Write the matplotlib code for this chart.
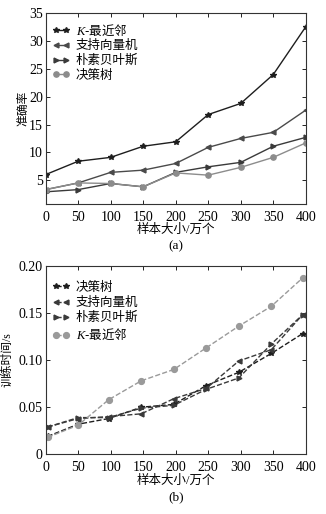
import matplotlib
matplotlib.use('Agg')
from matplotlib import pyplot as plt

plt.rcParams['font.family'] = ['Liberation Serif', 'Noto Sans CJK SC']
plt.rcParams['mathtext.fontset'] = 'custom'
plt.rcParams['mathtext.it'] = 'Liberation Serif:italic'
plt.rcParams['mathtext.rm'] = 'Liberation Serif'
plt.rcParams['axes.unicode_minus'] = False

# (a) accuracy vs sample size
x_a = [0, 50, 100, 150, 200, 250, 300, 350, 400]
knn_a = [6.0, 8.4, 9.1, 11.1, 11.9, 16.8, 18.8, 24.0, 32.6]
svm_a = [3.3, 4.5, 6.4, 6.8, 8.0, 10.9, 12.5, 13.6, 17.6]
nb_a = [2.9, 3.3, 4.4, 3.8, 6.4, 7.4, 8.2, 11.1, 12.7]
dt_a = [3.3, 4.5, 4.4, 3.8, 6.3, 5.9, 7.3, 9.1, 11.7]

# (b) training time vs sample size
x_b = [3, 50, 97, 147, 197, 247, 297, 347, 395]
dt_b = [0.019, 0.032, 0.038, 0.050, 0.053, 0.073, 0.087, 0.107, 0.128]
svm_b = [0.029, 0.038, 0.040, 0.043, 0.059, 0.070, 0.099, 0.111, 0.148]
nb_b = [0.029, 0.039, 0.039, 0.049, 0.052, 0.069, 0.081, 0.117, 0.148]
knn_b = [0.018, 0.031, 0.058, 0.078, 0.090, 0.113, 0.136, 0.157, 0.187]

xticks = [0, 50, 100, 150, 200, 250, 300, 350, 400]
knn_name = r'$K$-最近邻'

fig = plt.figure(figsize=(3.26, 5.14), dpi=100)
ax1 = fig.add_axes([0.140, 0.603, 0.798, 0.371])
ax2 = fig.add_axes([0.140, 0.116, 0.798, 0.367])

ax1.plot(x_a, knn_a, color='#1e1e1e', lw=1.0, marker='*', ms=4, label=knn_name)
ax1.plot(x_a, svm_a, color='#4a4a4a', lw=1.0, marker='<', ms=3.5, label='支持向量机')
ax1.plot(x_a, nb_a, color='#3a3a3a', lw=1.0, marker='>', ms=3.5, label='朴素贝叶斯')
ax1.plot(x_a, dt_a, color='#8c8c8c', lw=1.0, marker='o', ms=3.8, label='决策树')
ax1.set_xlim(0, 400)
ax1.set_ylim(0.7, 35)
ax1.set_xticks(xticks)
ax1.set_yticks([5, 10, 15, 20, 25, 30, 35])
ax1.set_ylabel('准确率', fontsize=8.5, labelpad=-0.5)
ax1.set_xlabel('样本大小/万个', fontsize=9, labelpad=0)
ax1.text(0.5, -0.22, '(a)', transform=ax1.transAxes, ha='center', va='center', fontsize=9.5)

ax2.plot(x_b, dt_b, color='#1e1e1e', lw=1.0, ls='--', marker='*', ms=4, label='决策树')
ax2.plot(x_b, svm_b, color='#3a3a3a', lw=1.0, ls='--', marker='<', ms=3.5, label='支持向量机')
ax2.plot(x_b, nb_b, color='#3a3a3a', lw=1.0, ls='--', marker='>', ms=3.5, label='朴素贝叶斯')
ax2.plot(x_b, knn_b, color='#9a9a9a', lw=1.0, ls='--', marker='o', ms=4.2, label=knn_name)
ax2.set_xlim(0, 400)
ax2.set_ylim(0, 0.2)
ax2.set_xticks(xticks)
ax2.set_yticks([0, 0.05, 0.10, 0.15, 0.20])
ax2.set_yticklabels(['0', '0.05', '0.10', '0.15', '0.20'])
ax2.set_ylabel('训练时间/s', fontsize=8.5, labelpad=3.5)
ax2.set_xlabel('样本大小/万个', fontsize=9, labelpad=0)
ax2.text(0.5, -0.23, '(b)', transform=ax2.transAxes, ha='center', va='center', fontsize=9.5)

for ax, top, sp in ((ax1, 0.952, 0.2), (ax2, 0.915, 0.24)):
    ax.tick_params(direction='in', top=True, right=True, labelsize=10, length=3, width=0.6)
    ax.tick_params(axis='x', pad=5)
    ax.tick_params(axis='y', pad=2)
    for s in ax.spines.values():
        s.set_linewidth(0.8)
        s.set_color('#333333')
    leg = ax.legend(loc='upper left', frameon=False, numpoints=2, handlelength=1.4,
                    fontsize=9, labelspacing=sp, handletextpad=0.5,
                    borderaxespad=0, borderpad=0, bbox_to_anchor=(0.024, top))
    for t in leg.get_texts():
        if t.get_text() == knn_name:
            t.set_fontfamily('Noto Sans CJK SC')

fig.savefig('out.png', dpi=100)
